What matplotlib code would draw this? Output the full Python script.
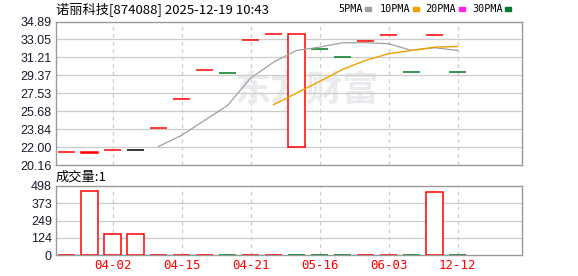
import matplotlib
matplotlib.use("Agg")
import matplotlib.pyplot as plt

plt.rcParams['font.family'] = ['Noto Sans CJK SC', 'DejaVu Sans']

# -----------------------------
# data
# -----------------------------
title = "诺丽科技[874088] 2025-12-19 10:43"
opens  = [21.49, 21.46, 21.73, 21.73, 23.92, 26.96, 29.94, 29.56, 33.02, 33.63,
          21.97, 32.10, 31.27, 32.92, 33.46, 29.73, 33.46, 29.73]
closes = [21.49, 21.40, 21.73, 21.73, 23.92, 26.96, 29.94, 29.56, 33.02, 33.63,
          33.56, 32.10, 31.27, 32.92, 33.46, 29.73, 33.46, 29.73]
candle_colors = ["red", "red", "red", "black", "red", "red", "red", "green", "red", "red",
                 "red", "green", "green", "red", "red", "green", "red", "green"]
volumes = [2, 460, 149, 149, 2, 2, 2, 2, 2, 2,
           2, 2, 2, 2, 2, 2, 457, 2]
vol_colors = ["red", "red", "red", "red", "red", "red", "red", "green", "red", "red",
              "green", "green", "green", "red", "red", "green", "red", "green"]

# 5-period MA starts at bar 4, 10-period MA at bar 9
ma5_idx = list(range(4, 18))
ma5 = [22.07, 23.20, 24.74, 26.28, 29.08, 30.72, 31.92, 32.26, 32.71, 32.71,
       32.61, 31.92, 32.20, 31.92]
ma10_idx = list(range(9, 18))
ma10 = [26.35, 27.54, 28.74, 29.97, 30.90, 31.58, 31.92, 32.26, 32.33]

price_ticks = [20.16, 22.00, 23.84, 25.68, 27.53, 29.37, 31.21, 33.05, 34.89]
vol_ticks = [0, 124, 249, 373, 498]
date_pos = [2, 5, 8, 11, 14, 17]
date_labels = ["04-02", "04-15", "04-21", "05-16", "06-03", "12-12"]

RED = "#ff0000"
GREEN = "#007a1e"
cmap = {"red": RED, "green": GREEN, "black": "#000000"}

# -----------------------------
# figure layout
# -----------------------------
fig = plt.figure(figsize=(5.78, 2.76), dpi=100)
ax = fig.add_axes([56 / 578, 1 - 165 / 276, 466 / 578, 143.5 / 276])
axv = fig.add_axes([56 / 578, 1 - 255 / 276, 466 / 578, 69 / 276])

n = len(opens)
xlim = (-0.46, 19.8)
w = 0.72

for a in (ax, axv):
    a.set_xlim(*xlim)
    for s in a.spines.values():
        s.set_color("#999999")
        s.set_linewidth(1)
    for xp in date_pos:
        a.axvline(xp, color="#cccccc", lw=0.9, ls=(0, (3, 3)), zorder=0)
    a.tick_params(axis="both", length=0, labelsize=9, labelcolor="#1a1a2e", pad=3)

# watermark
ax.text(0.54, 0.52, "东方财富", transform=ax.transAxes, ha="center", va="center",
        fontsize=26, fontweight="bold", color="#ebebef", zorder=0)

# price panel
ax.set_ylim(price_ticks[0], price_ticks[-1])
ax.set_yticks(price_ticks)
ax.set_yticklabels([f"{t:.2f}" for t in price_ticks], family="Liberation Sans")
for t in price_ticks[1:-1]:
    ax.axhline(t, color="#cccccc", lw=0.9, zorder=0)

for i in range(n):
    c = cmap[candle_colors[i]]
    lo = min(opens[i], closes[i])
    h = abs(closes[i] - opens[i])
    ax.bar(i, h, bottom=lo, width=w, facecolor="white" if h > 0.2 else c,
           edgecolor=c, linewidth=1.1, zorder=3)

ax.plot(ma5_idx, ma5, color="#a0a0a0", lw=0.9, zorder=4)
ax.plot(ma10_idx, ma10, color="#f0a000", lw=1.0, zorder=4)
ax.set_xticks([])

# volume panel
axv.set_ylim(0, vol_ticks[-1])
axv.set_yticks(vol_ticks)
axv.set_yticklabels([str(t) for t in vol_ticks], family="Liberation Sans")
for t in vol_ticks[1:-1]:
    axv.axhline(t, color="#cccccc", lw=0.9, zorder=0)
for i in range(n):
    c = cmap[vol_colors[i]]
    axv.bar(i, volumes[i], width=w, facecolor="white", edgecolor=c, linewidth=1.1, zorder=3)
axv.set_xticks(date_pos)
axv.set_xticklabels(date_labels, color=RED, family="DejaVu Sans Mono", fontsize=9)

# texts
fig.text(56 / 578, 1 - 9 / 276, title, ha="left", va="center", fontsize=9.5, color="#000000")
fig.text(56 / 578, 1 - 177 / 276, "成交量:1", ha="left", va="center", fontsize=9.5, color="#000000")

legend = [("5PMA", "#a0a0a0", 338, 365), ("10PMA", "#f0a000", 380, 413),
          ("20PMA", "#ff22ee", 425, 459), ("30PMA", "#007a30", 472, 505)]
for name, col, xpx, sq in legend:
    fig.text(xpx / 578, 1 - 9 / 276, name, ha="left", va="center", fontsize=7.3,
             family="DejaVu Sans Mono", color="#000000")
    fig.patches.append(plt.Rectangle((sq / 578, 1 - 10.5 / 276), 6 / 578, 3.5 / 276,
                                     transform=fig.transFigure, color=col))

fig.savefig("out.png", dpi=100)
